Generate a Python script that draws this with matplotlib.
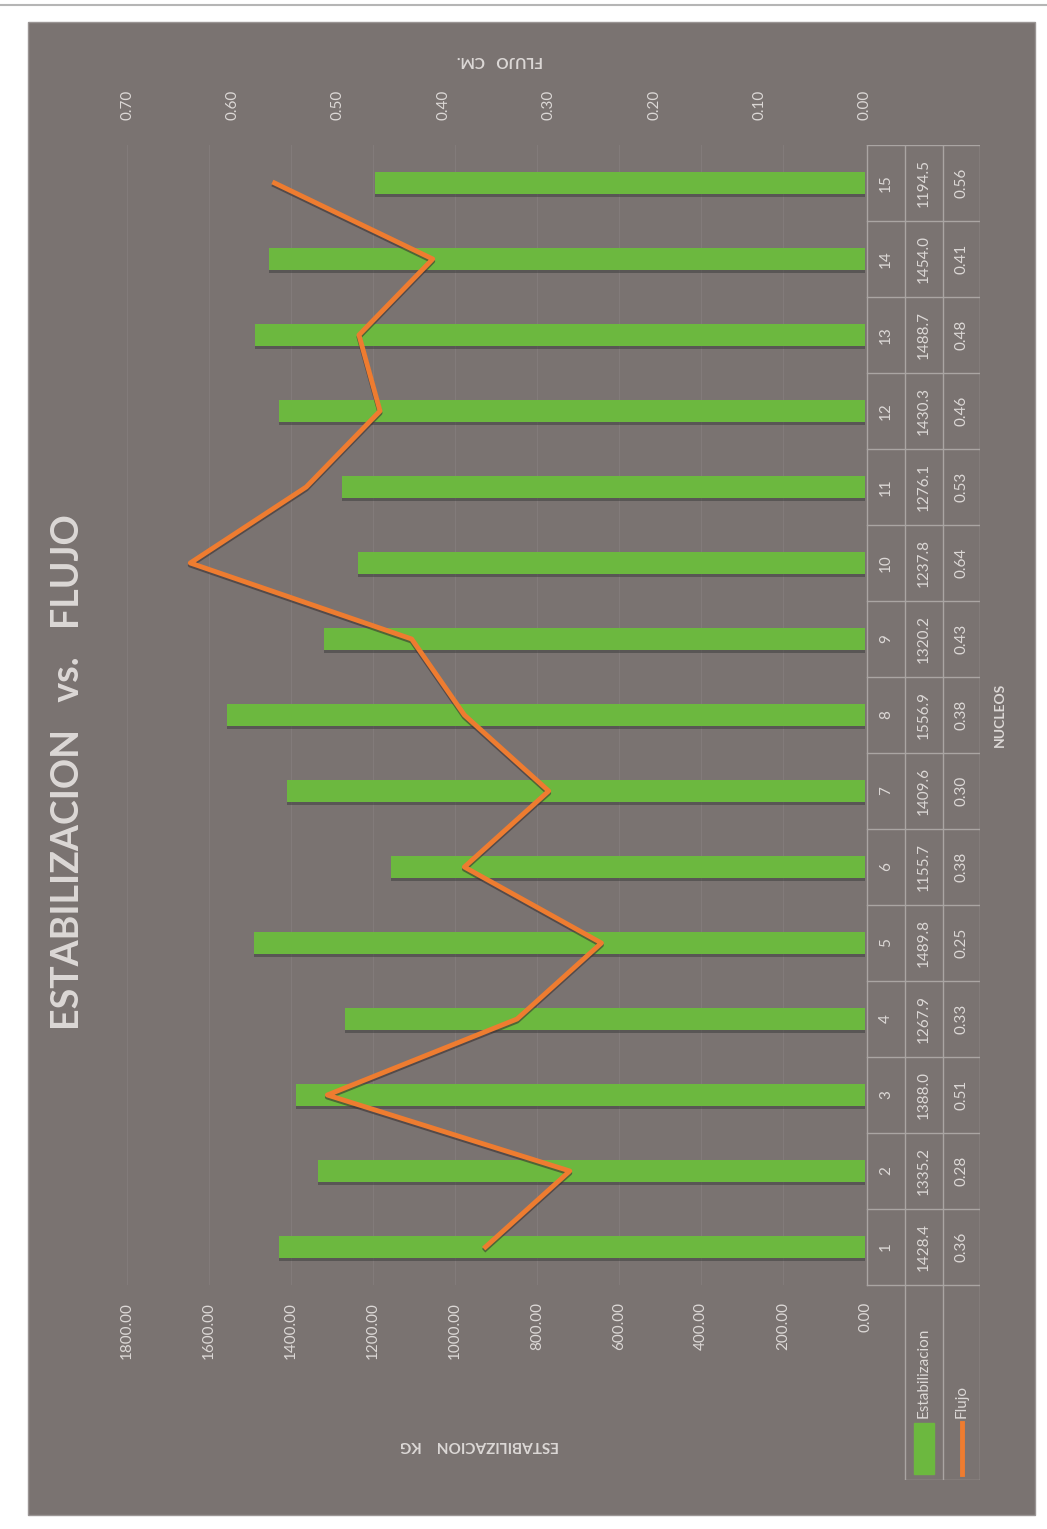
import matplotlib
matplotlib.use("Agg")
import matplotlib.pyplot as plt
import matplotlib.patheffects as pe
from matplotlib.patches import Rectangle
from matplotlib.lines import Line2D
import numpy as np

plt.rcParams['font.family'] = ['Lato', 'DejaVu Sans']

# datos de los nucleos
nucleos = [1, 2, 3, 4, 5, 6, 7, 8, 9, 10, 11, 12, 13, 14, 15]
estabilizacion = [1428.4, 1335.2, 1388.0, 1267.9, 1489.8, 1155.7, 1409.6, 1556.9,
                  1320.2, 1237.8, 1276.1, 1430.3, 1488.7, 1454.0, 1194.5]
flujo = [0.36, 0.28, 0.51, 0.33, 0.25, 0.38, 0.30, 0.38, 0.43, 0.64, 0.53, 0.46,
         0.48, 0.41, 0.56]
ticks_est = [0, 200, 400, 600, 800, 1000, 1200, 1400, 1600, 1800]
ticks_flujo = [0.0, 0.1, 0.2, 0.3, 0.4, 0.5, 0.6, 0.7]

W, H = 1047, 1529
BG = '#7a7371'
TXT = '#dcd8d6'
GREEN = '#6cb83f'
ORANGE = '#ee7c30'
LINEA = '#aaa5a3'

fig = plt.figure(figsize=(W / 100, H / 100), dpi=100, facecolor='white')


def fx(px):
    return px / W


def fy(py):
    return 1 - py / H


# fondo gris del grafico
fig.patches.append(Rectangle((fx(28), fy(1515)), fx(1035) - fx(28), fy(22) - fy(1515),
                             transform=fig.transFigure, facecolor=BG, edgecolor='#9a9594',
                             lw=1, zorder=-5))
fig.lines.append(Line2D([0.0, 1.0], [fy(5), fy(5)], transform=fig.transFigure,
                        color='#b5b5b5', lw=1.5, zorder=-5))

# area de trazado (grafico girado 90 grados)
x0, x1, y0, y1 = 127, 865, 145, 1285
ax = fig.add_axes([fx(x0), fy(y1), fx(x1) - fx(x0), fy(y0) - fy(y1)])
ax.set_facecolor('none')
ax.barh(nucleos, estabilizacion, height=0.3, color=GREEN, zorder=3,
        path_effects=[pe.SimplePatchShadow(offset=(0, -2), shadow_rgbFace='#3a3a3a', alpha=0.5),
                      pe.Normal()])
ax.set_xlim(1800, 0)
ax.set_ylim(0.5, 15.5)
ax.set_xticks(ticks_est)
ax.set_xticklabels([f'{t:.2f}' for t in ticks_est], rotation=90, color=TXT, fontsize=11)
ax.set_yticks([])
ax.tick_params(axis='x', length=0, pad=12)
ax.grid(axis='x', color='#827b7a', lw=0.8, zorder=0)
for s in ax.spines.values():
    s.set_visible(False)

ax2 = ax.twiny()
ax2.plot(flujo, nucleos, color=ORANGE, lw=3.5, zorder=5,
         path_effects=[pe.SimpleLineShadow(offset=(0, -1.5), shadow_color='#3a3030', alpha=0.6),
                       pe.Normal()])
ax2.set_xlim(0.70, 0)
ax2.set_xticks(ticks_flujo)
ax2.set_xticklabels([f'{t:.2f}' for t in ticks_flujo], rotation=90, color=TXT, fontsize=11)
ax2.tick_params(axis='x', length=0, pad=18)
for s in ax2.spines.values():
    s.set_visible(False)

# tabla de datos a la derecha
t_left, t_right, t_bottom = 865, 980, 1480
ext = (t_bottom - y1) / (y1 - y0) * 15
tab = fig.add_axes([fx(t_left), fy(t_bottom), fx(t_right) - fx(t_left), fy(y0) - fy(t_bottom)])
tab.set_xlim(0, 1)
tab.set_ylim(0.5 - ext, 15.5)
tab.axis('off')
c1 = (905 - t_left) / (t_right - t_left)
c2 = (943 - t_left) / (t_right - t_left)
kw = dict(color=LINEA, lw=1)
tab.plot([0.02, 0.02], [0.5, 15.5], **kw)
for c in (c1, c2, 1.0):
    tab.plot([c, c], [0.5 - ext, 15.5], **kw)
for b in np.arange(0.5, 16.0, 1.0):
    tab.plot([0.02, 1.0], [b, b], **kw)
tab.plot([c1, 1.0], [0.5 - ext, 0.5 - ext], **kw)

for n, e, f in zip(nucleos, estabilizacion, flujo):
    tab.text(c1 / 2 + 0.01, n, str(n), rotation=90, ha='center', va='center', color=TXT, fontsize=11)
    tab.text((c1 + c2) / 2, n, f'{e:.1f}', rotation=90, ha='center', va='center', color=TXT, fontsize=11)
    tab.text((c2 + 1) / 2, n, f'{f:.2f}', rotation=90, ha='center', va='center', color=TXT, fontsize=11)

# leyenda dentro de la tabla
tab.add_patch(Rectangle(((c1 + c2) / 2 - 0.09, -1.99), 0.18, 0.68, color=GREEN))
tab.text((c1 + c2) / 2, -1.25, 'Estabilizacion', rotation=90, ha='center', va='bottom',
         color=TXT, fontsize=11)
tab.plot([(c2 + 1) / 2, (c2 + 1) / 2], [-1.99, -1.31], color=ORANGE, lw=3.5)
tab.text((c2 + 1) / 2, -1.25, 'Flujo', rotation=90, ha='center', va='bottom',
         color=TXT, fontsize=11)

# titulos
fig.text(fx(68), fy(772), 'ESTABILIZACION   vs.   FLUJO', rotation=90, ha='center', va='center',
         color=TXT, fontsize=27, fontweight='bold')
fig.text(fx(480), fy(1445), 'ESTABILIZACION    KG', rotation=180, ha='center', va='center',
         color=TXT, fontsize=11, fontweight='bold')
fig.text(fx(500), fy(60), 'FLUJO   CM.', rotation=180, ha='center', va='center',
         color=TXT, fontsize=11, fontweight='bold')
fig.text(fx(1000), fy(715), 'NUCLEOS', rotation=90, ha='center', va='center',
         color=TXT, fontsize=10, fontweight='bold')

fig.savefig('out.png', dpi=100, facecolor='white')
